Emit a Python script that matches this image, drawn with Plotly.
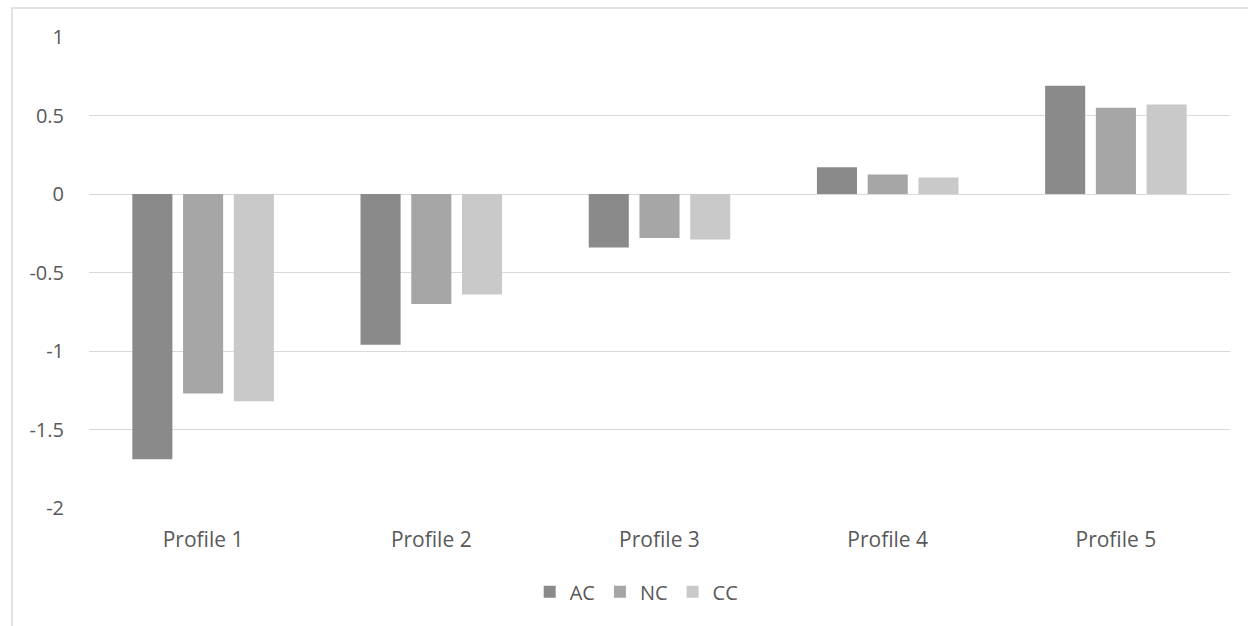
import plotly.graph_objects as go

categories = ["Profile 1", "Profile 2", "Profile 3", "Profile 4", "Profile 5"]
ac_values = [-1.69, -0.96, -0.34, 0.17, 0.69]
nc_values = [-1.27, -0.70, -0.28, 0.125, 0.55]
cc_values = [-1.32, -0.64, -0.29, 0.105, 0.57]
y_ticks = [1, 0.5, 0, -0.5, -1, -1.5, -2]

series = [
    ("AC", ac_values, "#8a8a8a"),
    ("NC", nc_values, "#a6a6a6"),
    ("CC", cc_values, "#c9c9c9"),
]

fig = go.Figure()
for name, vals, color in series:
    fig.add_trace(go.Bar(x=categories, y=vals, name=name,
                         marker=dict(color=color, line=dict(width=0))))

text_font = dict(family="Open Sans, sans-serif", size=20, color="#595959")
cat_font = dict(family="Open Sans, sans-serif", size=21, color="#595959")

fig.update_layout(
    width=1248, height=626,
    margin=dict(l=89, r=18, t=37, b=118),
    paper_bgcolor="white", plot_bgcolor="white",
    barmode="group", bargap=0.333, bargroupgap=0.21,
    font=text_font,
    showlegend=True,
    legend=dict(orientation="h", x=0.48, xanchor="center", y=-0.178, yanchor="middle",
                font=text_font, itemwidth=30, traceorder="normal"),
    xaxis=dict(showgrid=False, showline=False, zeroline=False,
               ticks="outside", ticklen=13, tickcolor="rgba(0,0,0,0)",
               tickfont=cat_font),
    yaxis=dict(range=[-2, 1], tickvals=y_ticks, ticktext=[str(v) for v in y_ticks],
               showgrid=True, gridcolor="#d9d9d9", gridwidth=1,
               zeroline=True, zerolinecolor="#d9d9d9", zerolinewidth=1,
               showline=False, ticks="outside", ticklen=20,
               tickcolor="rgba(0,0,0,0)", tickfont=text_font),
    shapes=[dict(type="rect", xref="paper", yref="paper",
                 x0=-0.0675, x1=1.05, y0=-0.4, y1=1.0616,
                 line=dict(color="#d9d9d9", width=1.5), fillcolor="rgba(0,0,0,0)",
                 layer="below")],
)

fig.write_html("out.html")
